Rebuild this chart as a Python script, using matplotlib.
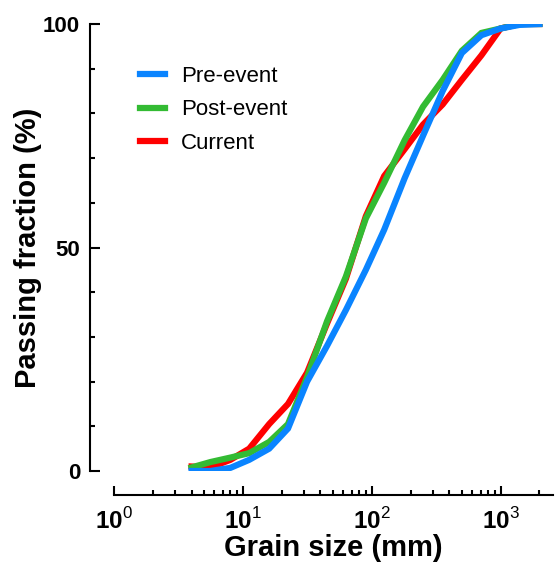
import matplotlib
matplotlib.use('Agg')
import matplotlib.pyplot as plt
from matplotlib.ticker import LogLocator, MultipleLocator, FixedLocator, FuncFormatter, NullFormatter
import numpy as np

plt.rcParams['font.family'] = ['Liberation Sans', 'DejaVu Sans']
plt.rcParams['mathtext.fontset'] = 'custom'
plt.rcParams['mathtext.rm'] = 'Liberation Sans'
plt.rcParams['mathtext.bf'] = 'Liberation Sans:bold'

# sieve sizes (mm) and passing fraction (%)
grain_size = [4, 5.6, 8, 11.2, 16, 22.4, 31.5, 45, 63, 90, 125, 180, 250, 355, 500, 710, 1000, 1400, 2000]
pre_event = [0, 0, 0.7, 2.5, 5, 9.5, 20, 28, 36, 45, 54, 65.5, 75, 85, 93.5, 97.5, 99, 99.8, 100]
post_event = [0.8, 2, 3, 4, 6.5, 10.5, 21, 33.5, 43.5, 56.5, 64.5, 74, 81.5, 87.5, 94, 98, 99, 100, 100]
current = [1, 0.8, 2.5, 5, 10.5, 15, 22, 33, 43, 57, 66, 72, 77.5, 82, 87.5, 93, 99, 100, 100]

blue = '#0A84FF'
green = '#33BB33'
red = '#FF0000'

fig = plt.figure(figsize=(5.56, 5.65), dpi=100)
ax = fig.add_axes([114 / 556, 94 / 565, 439 / 556, 447 / 565])

lw = 4.5
l3, = ax.plot(grain_size, current, color=red, lw=lw, label='Current', solid_joinstyle='miter')
l2, = ax.plot(grain_size, post_event, color=green, lw=lw, label='Post-event', solid_joinstyle='miter')
l1, = ax.plot(grain_size, pre_event, color=blue, lw=lw, label='Pre-event', solid_joinstyle='miter')

ax.set_xscale('log')
ax.set_xlim(1, 2550)
ax.set_ylim(0, 100)

for side in ['top', 'right']:
    ax.spines[side].set_visible(False)
for side in ['left', 'bottom']:
    ax.spines[side].set_linewidth(1.5)
    ax.spines[side].set_position(('outward', 17.3))

ax.xaxis.set_major_locator(FixedLocator([1, 10, 100, 1000]))
ax.xaxis.set_minor_locator(LogLocator(base=10, subs=np.arange(2, 10)))
ax.xaxis.set_minor_formatter(NullFormatter())
ax.xaxis.set_major_formatter(FuncFormatter(
    lambda v, p: r'$\mathbf{10}^{\mathrm{%d}}$' % int(round(np.log10(v)))))

ax.yaxis.set_major_locator(FixedLocator([0, 50, 100]))
ax.yaxis.set_minor_locator(MultipleLocator(10))

ax.tick_params(axis='both', which='both', direction='in', width=1.5)
ax.tick_params(axis='y', which='major', length=7.5, pad=7, labelsize=16)
ax.tick_params(axis='y', which='minor', length=3.8)
ax.tick_params(axis='x', which='major', length=6.5, pad=9, labelsize=17.5)
ax.tick_params(axis='x', which='minor', length=3.5)
for lab in ax.get_yticklabels():
    lab.set_fontweight('bold')

ax.set_xlabel('Grain size (mm)', fontsize=21, fontweight='bold')
ax.set_ylabel('Passing fraction (%)', fontsize=21, fontweight='bold')
ax.xaxis.set_label_coords(0.5, -0.142)
ax.yaxis.set_label_coords(-0.164, 0.5)

ax.legend(handles=[l1, l2, l3], loc='upper left', bbox_to_anchor=(0.059, 0.906),
          frameon=False, fontsize=16, handlelength=1.12, handletextpad=0.72,
          labelspacing=0.56, borderpad=0, borderaxespad=0)

fig.savefig('out.png', dpi=100)
